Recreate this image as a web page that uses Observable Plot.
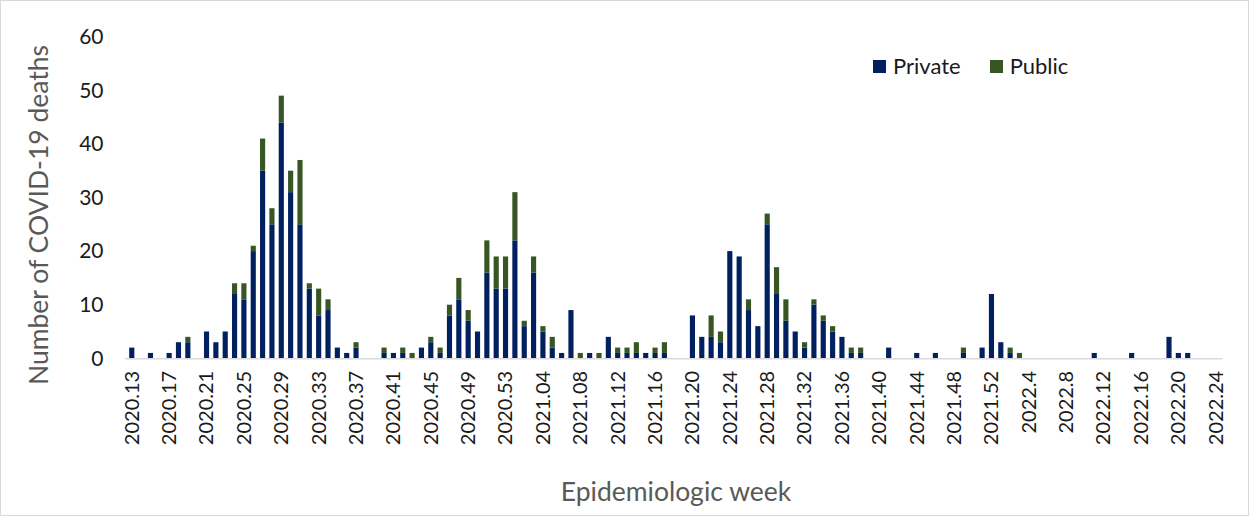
<!DOCTYPE html>
<html><head><meta charset="utf-8">
<script src="https://cdn.jsdelivr.net/npm/d3@7"></script>
<script src="https://cdn.jsdelivr.net/npm/@observablehq/plot@0.6"></script>
<style>
html,body{margin:0;padding:0;background:#fff;}
#wrap{position:relative;width:1249px;height:516px;overflow:hidden;font-family:Lato,"Open Sans",sans-serif;}
#wrap svg{position:absolute;left:0;top:0;}
.frame{position:absolute;left:0;top:0;width:1249px;height:516px;box-sizing:border-box;border:1px solid #d9d9d9;pointer-events:none;}
.ytitle{position:absolute;left:38px;top:215px;transform:translate(-50%,-50%) rotate(-90deg);font-size:26.5px;color:#595959;white-space:nowrap;line-height:1;}
.xtitle{position:absolute;left:676px;top:491px;transform:translate(-50%,-50%);font-size:26.5px;color:#595959;white-space:nowrap;line-height:1;}
.legend{position:absolute;left:873px;top:66px;transform:translateY(-50%);font-size:22px;color:#1a1a1a;display:flex;align-items:center;white-space:nowrap;line-height:1;}
.legend .sw{display:inline-block;width:13px;height:13px;margin-right:7px;}
.legend .item{display:flex;align-items:center;margin-right:29px;}
</style>
</head><body>
<div id="wrap">
  <div class="ytitle">Number of COVID-19 deaths</div>
  <div class="xtitle">Epidemiologic week</div>
  <div class="legend" id="legend"></div>
  <div class="frame"></div>
</div>
<script>
const weeks = [
"2020.13","2020.14","2020.15","2020.16","2020.17","2020.18","2020.19","2020.20","2020.21","2020.22",
"2020.23","2020.24","2020.25","2020.26","2020.27","2020.28","2020.29","2020.30","2020.31","2020.32",
"2020.33","2020.34","2020.35","2020.36","2020.37","2020.38","2020.39","2020.40","2020.41","2020.42",
"2020.43","2020.44","2020.45","2020.46","2020.47","2020.48","2020.49","2020.50","2020.51","2020.52",
"2020.53",
"2021.01","2021.02","2021.03","2021.04","2021.05","2021.06","2021.07","2021.08","2021.09","2021.10",
"2021.11","2021.12","2021.13","2021.14","2021.15","2021.16","2021.17","2021.18","2021.19","2021.20",
"2021.21","2021.22","2021.23","2021.24","2021.25","2021.26","2021.27","2021.28","2021.29","2021.30",
"2021.31","2021.32","2021.33","2021.34","2021.35","2021.36","2021.37","2021.38","2021.39","2021.40",
"2021.41","2021.42","2021.43","2021.44","2021.45","2021.46","2021.47","2021.48","2021.49","2021.50",
"2021.51","2021.52",
"2022.1","2022.2","2022.3","2022.4","2022.5","2022.6","2022.7","2022.8","2022.9","2022.10",
"2022.11","2022.12","2022.13","2022.14","2022.15","2022.16","2022.17","2022.18","2022.19","2022.20",
"2022.21","2022.22","2022.23","2022.24"
];

const privateDeaths = [
2,0,1,0,1,3,3,0,5,3,
5,12,11,20,35,25,44,31,25,13,
8,9,2,1,2,0,0,1,1,1,
0,2,3,1,8,11,7,5,16,13,
13,
22,6,16,5,2,1,9,0,1,0,
4,1,1,1,1,1,1,0,0,8,
4,4,3,20,19,9,6,25,12,7,
5,2,10,7,5,4,1,1,0,0,
2,0,0,1,0,1,0,0,1,0,
2,12,
3,1,0,0,0,0,0,0,0,0,
1,0,0,0,1,0,0,0,4,1,
1,0,0,0
];

const publicDeaths = [
0,0,0,0,0,0,1,0,0,0,
0,2,3,1,6,3,5,4,12,1,
5,2,0,0,1,0,0,1,0,1,
1,0,1,1,2,4,2,0,6,6,
6,
9,1,3,1,2,0,0,1,0,1,
0,1,1,2,0,1,2,0,0,0,
0,4,2,0,0,2,0,2,5,4,
0,1,1,1,1,0,1,1,0,0,
0,0,0,0,0,0,0,0,1,0,
0,0,
0,1,1,0,0,0,0,0,0,0,
0,0,0,0,0,0,0,0,0,0,
0,0,0,0
];

const tickWeeks = [
"2020.13","2020.17","2020.21","2020.25","2020.29","2020.33","2020.37","2020.41","2020.45","2020.49",
"2020.53","2021.04","2021.08","2021.12","2021.16","2021.20","2021.24","2021.28","2021.32","2021.36",
"2021.40","2021.44","2021.48","2021.52","2022.4","2022.8","2022.12","2022.16","2022.20","2022.24"
];

const yTicks = [0,10,20,30,40,50,60];
const seriesNames = ["Private","Public"];
const seriesColors = ["#002060","#375623"];

const rows = [];
weeks.forEach((w,i)=>rows.push({week:w,type:"Private",value:privateDeaths[i]}));
weeks.forEach((w,i)=>rows.push({week:w,type:"Public",value:publicDeaths[i]}));

const chart = Plot.plot({
  width:1249, height:516,
  marginLeft:125, marginRight:26.5, marginTop:36.7, marginBottom:157.7,
  style:{fontFamily:"Lato, 'Open Sans', sans-serif", color:"#1a1a1a", background:"transparent", overflow:"visible"},
  x:{domain:weeks, padding:0.45, axis:null},
  y:{domain:[0,60], axis:null},
  color:{domain:seriesNames, range:seriesColors},
  marks:[
    Plot.barY(rows, {x:"week", y:"value", fill:"type"}),
    Plot.ruleY([0], {stroke:"#d9d9d9", strokeWidth:1.5}),
    Plot.axisX({ticks:tickWeeks, tickRotate:-90, tickSize:0, tickPadding:12, fontSize:20, label:null}),
    Plot.axisY({ticks:yTicks, tickSize:0, tickPadding:22, fontSize:21, label:null})
  ]
});
const wrap = document.getElementById("wrap");
wrap.insertBefore(chart, wrap.firstChild);

const legend = document.getElementById("legend");
seriesNames.forEach((n,i)=>{
  const it = document.createElement("span");
  it.className = "item";
  const sw = document.createElement("span");
  sw.className = "sw"; sw.style.background = seriesColors[i];
  it.appendChild(sw);
  it.appendChild(document.createTextNode(n));
  legend.appendChild(it);
});
</script>
</body></html>
